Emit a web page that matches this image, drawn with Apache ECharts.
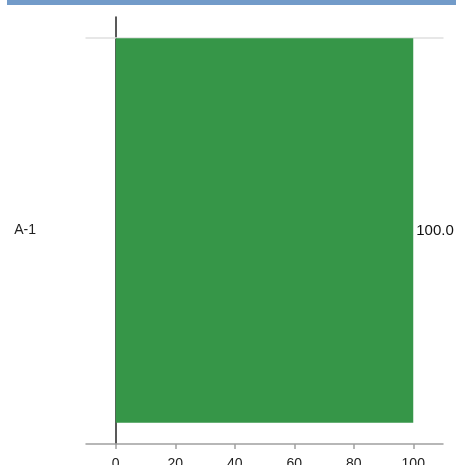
<!DOCTYPE html>
<html>
<head>
<meta charset="utf-8">
<style>html,body{margin:0;padding:0;background:#fff}#c{width:456px;height:465px}</style>
<script src="https://cdn.jsdelivr.net/npm/echarts@6/dist/echarts.min.js"></script>
</head>
<body>
<div id="c"></div>
<script>
var categories = ['A-1'];
var values = [100];
var tickValues = [0, 20, 40, 60, 80, 100];

var chart = echarts.init(document.getElementById('c'), null, {renderer: 'canvas'});
chart.setOption({
  animation: false,
  graphic: [{
    type: 'rect', left: 7, top: 0,
    shape: {width: 449, height: 5},
    style: {fill: '#729bc9'}
  }],
  grid: {left: 86, right: 13, top: 17, bottom: 21, containLabel: false, outerBoundsMode: 'none'},
  xAxis: [{
    type: 'value', min: -10, max: 110, position: 'bottom',
    axisLine: {show: true, lineStyle: {color: '#a0a0a0', width: 1.5}},
    axisTick: {show: true, length: 5, customValues: tickValues, lineStyle: {color: '#a0a0a0', width: 1.5}},
    axisLabel: {customValues: tickValues, color: '#222', fontSize: 14, fontFamily: 'Liberation Sans, Arial, sans-serif', margin: 13},
    splitLine: {show: false}
  }, {
    type: 'value', min: -10, max: 110, position: 'top', offset: -21,
    axisLine: {show: true, onZero: false, lineStyle: {color: '#e0e0e0', width: 1.5}},
    axisTick: {show: false}, axisLabel: {show: false}, splitLine: {show: false}
  }],
  yAxis: {
    type: 'category', data: categories,
    axisLine: {show: true, onZero: true, lineStyle: {color: '#222', width: 1.5}},
    axisTick: {show: false},
    axisLabel: {color: '#222', fontSize: 14, fontFamily: 'Liberation Sans, Arial, sans-serif', margin: 50}
  },
  series: [{
    type: 'bar', data: values, barWidth: '90%', xAxisIndex: 0,
    itemStyle: {color: '#369648'},
    label: {show: true, position: 'right', distance: 3, color: '#111', fontSize: 15,
      fontFamily: 'Liberation Sans, Arial, sans-serif',
      formatter: function (p) { return p.value.toFixed(1); }}
  }]
});
</script>
</body>
</html>
